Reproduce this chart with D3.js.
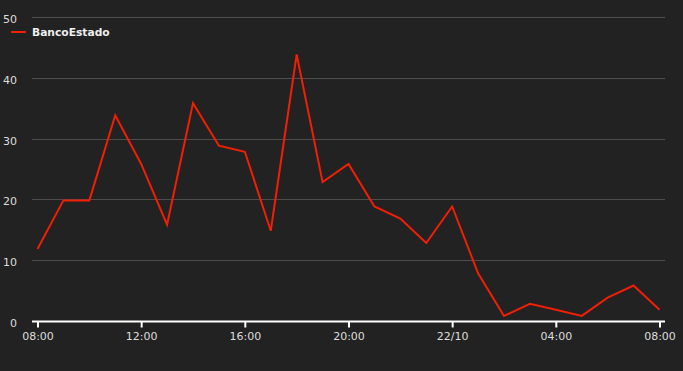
<!DOCTYPE html>
<html>
<head>
<meta charset="utf-8">
<script src="https://cdn.jsdelivr.net/npm/d3@7"></script>
<style>
  body { margin: 0; background: #222222; }
  svg { display: block; }
</style>
</head>
<body>
<div id="chart"></div>
<script>
// hourly counts, 21/10 08:00 -> 22/10 08:00
var hours = ["2014-10-21T08:00","2014-10-21T09:00","2014-10-21T10:00","2014-10-21T11:00",
  "2014-10-21T12:00","2014-10-21T13:00","2014-10-21T14:00","2014-10-21T15:00",
  "2014-10-21T16:00","2014-10-21T17:00","2014-10-21T18:00","2014-10-21T19:00",
  "2014-10-21T20:00","2014-10-21T21:00","2014-10-21T22:00","2014-10-21T23:00",
  "2014-10-22T00:00","2014-10-22T01:00","2014-10-22T02:00","2014-10-22T03:00",
  "2014-10-22T04:00","2014-10-22T05:00","2014-10-22T06:00","2014-10-22T07:00",
  "2014-10-22T08:00"];
var counts = [12, 20, 20, 34, 26, 16, 36, 29, 28, 15, 44, 23, 26, 19, 17, 13, 19, 8, 1, 3, 2, 1, 4, 6, 2];
var seriesName = "BancoEstado";
var yTicks = [0, 10, 20, 30, 40, 50];

var parseTime = d3.timeParse("%Y-%m-%dT%H:%M");
var data = hours.map((h, i) => ({ date: parseTime(h), value: counts[i] }));

var width = 683, height = 371;
var plotLeft = 32, plotRight = 665, plotBottom = 322, plotTop = 18;

var svg = d3.select("#chart")
  .append("svg")
    .attr("width", width)
    .attr("height", height);

var x = d3.scaleTime()
  .domain(d3.extent(data, d => d.date))
  .range([37.5, 659.5]);

var y = d3.scaleLinear()
  .domain([0, 50])
  .range([plotBottom, plotTop]);

// horizontal grid
svg.append("g")
  .selectAll("line")
  .data(yTicks.filter(d => d > 0))
  .enter()
  .append("line")
    .attr("x1", plotLeft)
    .attr("x2", plotRight)
    .attr("y1", d => Math.round(y(d)) - 0.5)
    .attr("y2", d => Math.round(y(d)) - 0.5)
    .style("stroke", "#4d4d4d")
    .style("stroke-width", 1);

// y labels
svg.append("g")
  .selectAll("text")
  .data(yTicks)
  .enter()
  .append("text")
    .attr("x", 17)
    .attr("y", d => y(d) + 5)
    .attr("text-anchor", "end")
    .style("font-family", "DejaVu Sans, sans-serif")
    .style("font-size", "11px")
    .style("fill", "#dddddd")
    .text(d => d);

// x axis
var fmt = d => (d.getHours() === 0 ? d3.timeFormat("%d/%m")(d) : d3.timeFormat("%H:%M")(d));
var xAxis = svg.append("g")
  .attr("transform", "translate(0," + (plotBottom - 0.5) + ")")
  .call(d3.axisBottom(x).ticks(d3.timeHour.every(4)).tickFormat(fmt).tickSize(6).tickSizeOuter(0));
xAxis.select(".domain").attr("d", "M" + plotLeft + ",0H" + plotRight).style("stroke", "#ffffff").style("stroke-width", 2);
xAxis.selectAll(".tick line").style("stroke", "#ffffff").style("stroke-width", 2);
xAxis.selectAll(".tick text")
  .attr("dy", "0.85em")
  .style("font-family", "DejaVu Sans, sans-serif")
  .style("font-size", "11px")
  .style("fill", "#dddddd");

// line
var line = d3.line()
  .x(d => x(d.date))
  .y(d => y(d.value));

svg.append("path")
  .datum(data)
  .attr("d", line)
  .style("fill", "none")
  .style("stroke", "#f01f05")
  .style("stroke-width", 2)
  .style("stroke-linejoin", "miter");

// legend
svg.append("line")
  .attr("x1", 11).attr("x2", 26)
  .attr("y1", 32).attr("y2", 32)
  .style("stroke", "#f01f05")
  .style("stroke-width", 2);
svg.append("text")
  .attr("x", 32)
  .attr("y", 36)
  .style("font-family", "DejaVu Sans, sans-serif")
  .style("font-size", "10.7px")
  .style("font-weight", "bold")
  .style("fill", "#eeeeee")
  .text(seriesName);
</script>
</body>
</html>
